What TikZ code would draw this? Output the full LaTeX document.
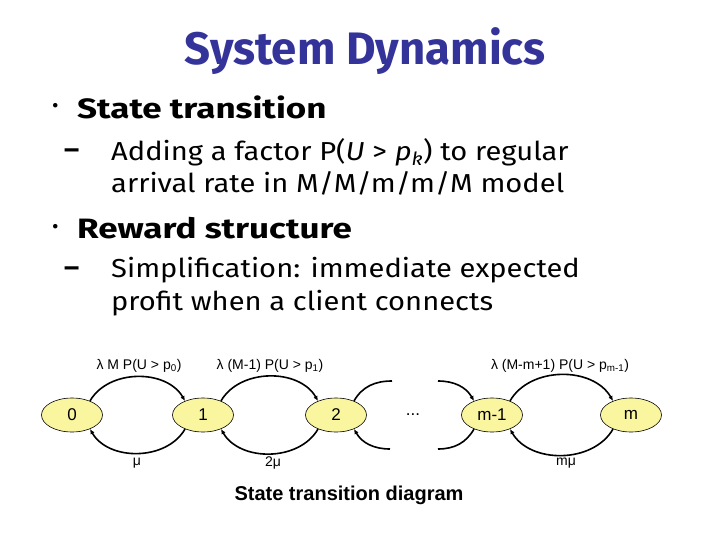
\documentclass[tikz,border=0pt]{standalone}
\usepackage{fontspec}
\setmainfont{Liberation Sans}
\newfontfamily\comic{Fira Sans}
\newfontfamily\comichd[FakeStretch=1.25]{Fira Sans}
\newfontfamily\comicsb[FakeStretch=1.12]{Fira Sans}
\usetikzlibrary{arrows.meta,shapes.geometric}
\definecolor{titleblue}{RGB}{51,51,153}
\definecolor{stfill}{RGB}{250,246,160}

\begin{document}
\begin{tikzpicture}[x=1pt, y=-1pt, >={Latex[length=5pt,width=4.5pt]},
  st/.style={draw, line width=0.6pt, ellipse, fill=stfill, inner sep=0pt,
    minimum width=61pt, minimum height=34pt, font=\fontsize{17}{17}\selectfont},
  lbl/.style={font=\fontsize{14}{14}\selectfont},
  arc/.style={line width=1.6pt},
  hd/.style={anchor=west, inner sep=0pt, font=\comichd\bfseries\fontsize{28}{28}\selectfont},
  sb/.style={anchor=west, inner sep=0pt, font=\comicsb\fontsize{26}{26}\selectfont},
  bulletmark/.style={anchor=west, inner sep=0pt, font=\comic\fontsize{20}{20}\selectfont},
  dashmark/.style={anchor=west, inner sep=0pt, font=\comicsb\bfseries\fontsize{26}{26}\selectfont}]
\useasboundingbox (0,0) rectangle (720,540);

% slide text
\node[font=\comic\bfseries\fontsize{45.5}{45.5}\selectfont, text=titleblue] (title) at (365,51) {System Dynamics};
\node[bulletmark] (dot1) at (52,108) {•};
\node[hd] (b1) at (77,107) {State transition};
\node[dashmark] (dash1) at (64,154) {–};
\node[sb] (b1a) at (111,152) {Adding a factor P(\textit{U} > \textit{p}\textsubscript{\textit{k}}) to regular};
\node[sb] (b1b) at (111,183) {arrival rate in M/M/m/m/M model};
\node[bulletmark] (dot2) at (52,229) {•};
\node[hd] (b2) at (77,228) {Reward structure};
\node[dashmark] (dash2) at (64,272) {–};
\node[sb] (b2a) at (111,270) {Simplification: immediate expected};
\node[sb] (b2b) at (111,303) {profit when a client connects};

% states
\node[st] (s0) at (72,415) {0};
\node[st] (s1) at (203,415) {1};
\node[st] (s2) at (336,415) {2};
\node[font=\fontsize{17}{17}\selectfont] (dots) at (413,415) {...};
\node[st] (sm1) at (492,415) {m-1};
\node[st] (sm) at (631,415) {m};

\coordinate (c2t) at (392,381);
\coordinate (c2b) at (390,449);
\coordinate (cm1t) at (438,381);
\coordinate (cm1b) at (438,449);

% arrivals
\draw[arc,->] (s0.38) to[out=60,in=120] (s1.142);
\draw[arc,->] (s1.38) to[out=60,in=120] (s2.142);
\draw[arc] (s2.38) to[out=60,in=180] (c2t);
\draw[arc,->] (cm1t) to[out=0,in=120] (sm1.142);
\draw[arc,->] (sm1.38) to[out=60,in=120] (sm.142);
% departures
\draw[arc,->] (s1.-142) to[out=-120,in=-60] (s0.-38);
\draw[arc,->] (s2.-142) to[out=-120,in=-60] (s1.-38);
\draw[arc,->] (c2b) to[out=180,in=-60] (s2.-38);
\draw[arc] (sm1.-142) to[out=-120,in=0] (cm1b);
\draw[arc,->] (sm.-142) to[out=-120,in=-60] (sm1.-38);

% rates
\node[lbl] (r0) at (139,366) {λ M P(U > p\textsubscript{0})};
\node[lbl] (r1) at (270,366) {λ (M-1) P(U > p\textsubscript{1})};
\node[lbl] (rm) at (560,366) {λ (M-m+1) P(U > p\textsubscript{m-1})};
\node[lbl] (u1) at (137,463) {μ};
\node[lbl] (u2) at (273,463) {2μ};
\node[lbl] (um) at (566,463) {mμ};

\node[font=\bfseries\fontsize{20}{20}\selectfont] (cap) at (349,495) {State transition diagram};
\end{tikzpicture}
\end{document}
